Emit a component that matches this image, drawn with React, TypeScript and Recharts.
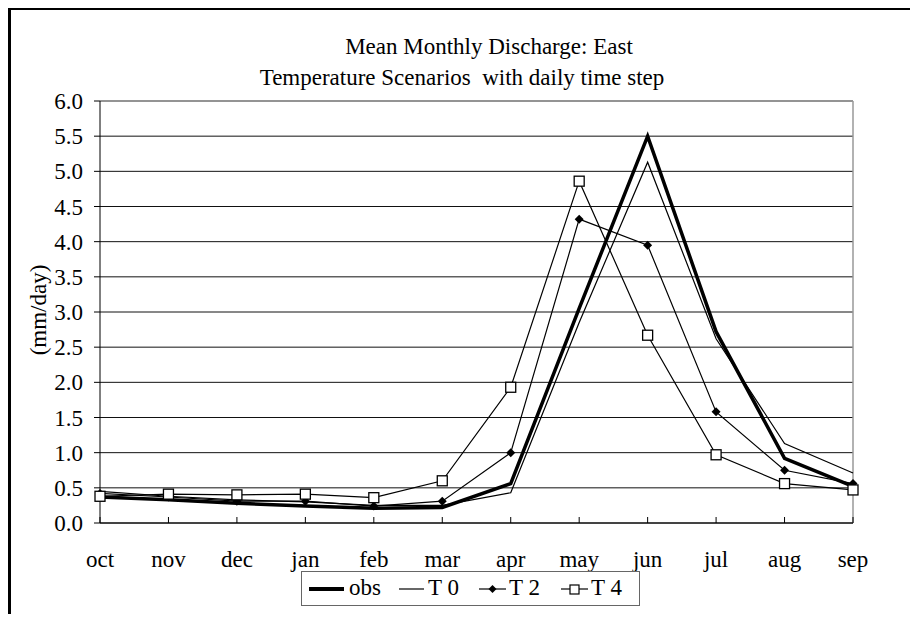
import { CartesianGrid, Line, LineChart, ReferenceLine, XAxis, YAxis } from "recharts";

const months = ["oct", "nov", "dec", "jan", "feb", "mar", "apr", "may", "jun", "jul", "aug", "sep"];
const obs = [0.37, 0.33, 0.28, 0.24, 0.21, 0.22, 0.56, 3.05, 5.5, 2.72, 0.92, 0.52];
const t0 = [0.45, 0.38, 0.33, 0.3, 0.25, 0.25, 0.43, 2.85, 5.13, 2.62, 1.13, 0.71];
const t2 = [0.42, 0.37, 0.31, 0.31, 0.24, 0.31, 1.0, 4.32, 3.95, 1.58, 0.75, 0.56];
const t4 = [0.38, 0.41, 0.4, 0.41, 0.36, 0.6, 1.93, 4.86, 2.67, 0.97, 0.56, 0.47];
const yTicks = [0, 0.5, 1, 1.5, 2, 2.5, 3, 3.5, 4, 4.5, 5, 5.5, 6];

const data = months.map((m, i) => ({ month: m, obs: obs[i], t0: t0[i], t2: t2[i], t4: t4[i] }));

const FONT = "'Liberation Serif', 'Times New Roman', serif";

function Diamond(props: any) {
  const { cx, cy, index } = props;
  if (cx == null || cy == null) return null;
  const s = 4.5;
  return (
    <path
      key={`d-${index}`}
      d={`M${cx},${cy - s}L${cx + s},${cy}L${cx},${cy + s}L${cx - s},${cy}Z`}
      fill="#000"
    />
  );
}

function Square(props: any) {
  const { cx, cy, index } = props;
  if (cx == null || cy == null) return null;
  return (
    <rect key={`s-${index}`} x={cx - 5} y={cy - 5} width={10} height={10} fill="#fff" stroke="#000" strokeWidth={1.3} />
  );
}

export default function App() {
  return (
    <div style={{ position: "relative", width: 902, height: 606, fontFamily: FONT }}>
      <div
        style={{
          position: "absolute",
          left: 0,
          top: -1,
          width: 910,
          height: 614,
          borderLeft: "3px solid #000",
          borderTop: "3px solid #000",
          boxSizing: "border-box",
        }}
      />
      <div style={{ position: "absolute", left: 481 - 300, top: 26, width: 600, textAlign: "center", fontSize: 23 }}>
        Mean Monthly Discharge: East
      </div>
      <div style={{ position: "absolute", left: 454 - 300, top: 57, width: 600, textAlign: "center", fontSize: 23, whiteSpace: "pre" }}>
        {"Temperature Scenarios  with daily time step"}
      </div>
      <div
        style={{
          position: "absolute",
          left: 31 - 60,
          top: 302 - 14,
          width: 120,
          height: 28,
          lineHeight: "28px",
          textAlign: "center",
          fontSize: 23,
          transform: "rotate(-90deg)",
        }}
      >
        (mm/day)
      </div>
      <LineChart width={902} height={606} data={data} margin={{ top: 93, right: 57, bottom: 41, left: 0 }}>
        <CartesianGrid vertical={false} stroke="#111" strokeWidth={1} />
        <XAxis
          dataKey="month"
          axisLine={{ stroke: "#000" }}
          tickLine={{ stroke: "#000" }}
          tickSize={-6}
          tickMargin={34}
          height={50}
          interval={0}
          tick={{ fill: "#000", fontSize: 23, fontFamily: FONT }}
        />
        <YAxis
          domain={[0, 6]}
          ticks={yTicks}
          width={92}
          interval={0}
          tickFormatter={(v: number) => v.toFixed(1)}
          axisLine={{ stroke: "#000" }}
          tickLine={{ stroke: "#000" }}
          tickSize={6}
          tickMargin={11}
          tick={{ fill: "#000", fontSize: 23, fontFamily: FONT }}
        />
        <ReferenceLine y={6} stroke="#999" strokeWidth={1.5} />
        <ReferenceLine x="sep" stroke="#999" strokeWidth={1.5} />
        <Line dataKey="t0" stroke="#000" strokeWidth={1.2} dot={false} isAnimationActive={false} />
        <Line dataKey="t2" stroke="#000" strokeWidth={1.2} dot={Diamond} isAnimationActive={false} />
        <Line dataKey="t4" stroke="#000" strokeWidth={1.2} dot={Square} isAnimationActive={false} />
        <Line dataKey="obs" stroke="#000" strokeWidth={3.5} dot={false} isAnimationActive={false} />
      </LineChart>
      <div
        style={{
          position: "absolute",
          left: 293,
          top: 563,
          width: 339,
          height: 35,
          border: "1px solid #666",
          boxSizing: "border-box",
          fontSize: 23,
        }}
      >
        <svg style={{ position: "absolute", left: 0, top: 0 }} width={339} height={35}>
          <line x1={7} x2={42} y1={17} y2={17} stroke="#000" strokeWidth={4} />
          <line x1={97} x2={122} y1={17} y2={17} stroke="#000" strokeWidth={1.2} />
          <line x1={177} x2={204} y1={17} y2={17} stroke="#000" strokeWidth={1.2} />
          <path d="M190.5,13L194.5,17L190.5,21L186.5,17Z" fill="#000" />
          <line x1={259} x2={286} y1={17} y2={17} stroke="#000" strokeWidth={1.2} />
          <rect x={268} y={13} width={9} height={9} fill="#fff" stroke="#000" strokeWidth={1.2} />
        </svg>
        <span style={{ position: "absolute", left: 47, top: 2, lineHeight: "28px" }}>obs</span>
        <span style={{ position: "absolute", left: 126, top: 2, lineHeight: "28px" }}>T 0</span>
        <span style={{ position: "absolute", left: 207, top: 2, lineHeight: "28px" }}>T 2</span>
        <span style={{ position: "absolute", left: 289, top: 2, lineHeight: "28px" }}>T 4</span>
      </div>
    </div>
  );
}
